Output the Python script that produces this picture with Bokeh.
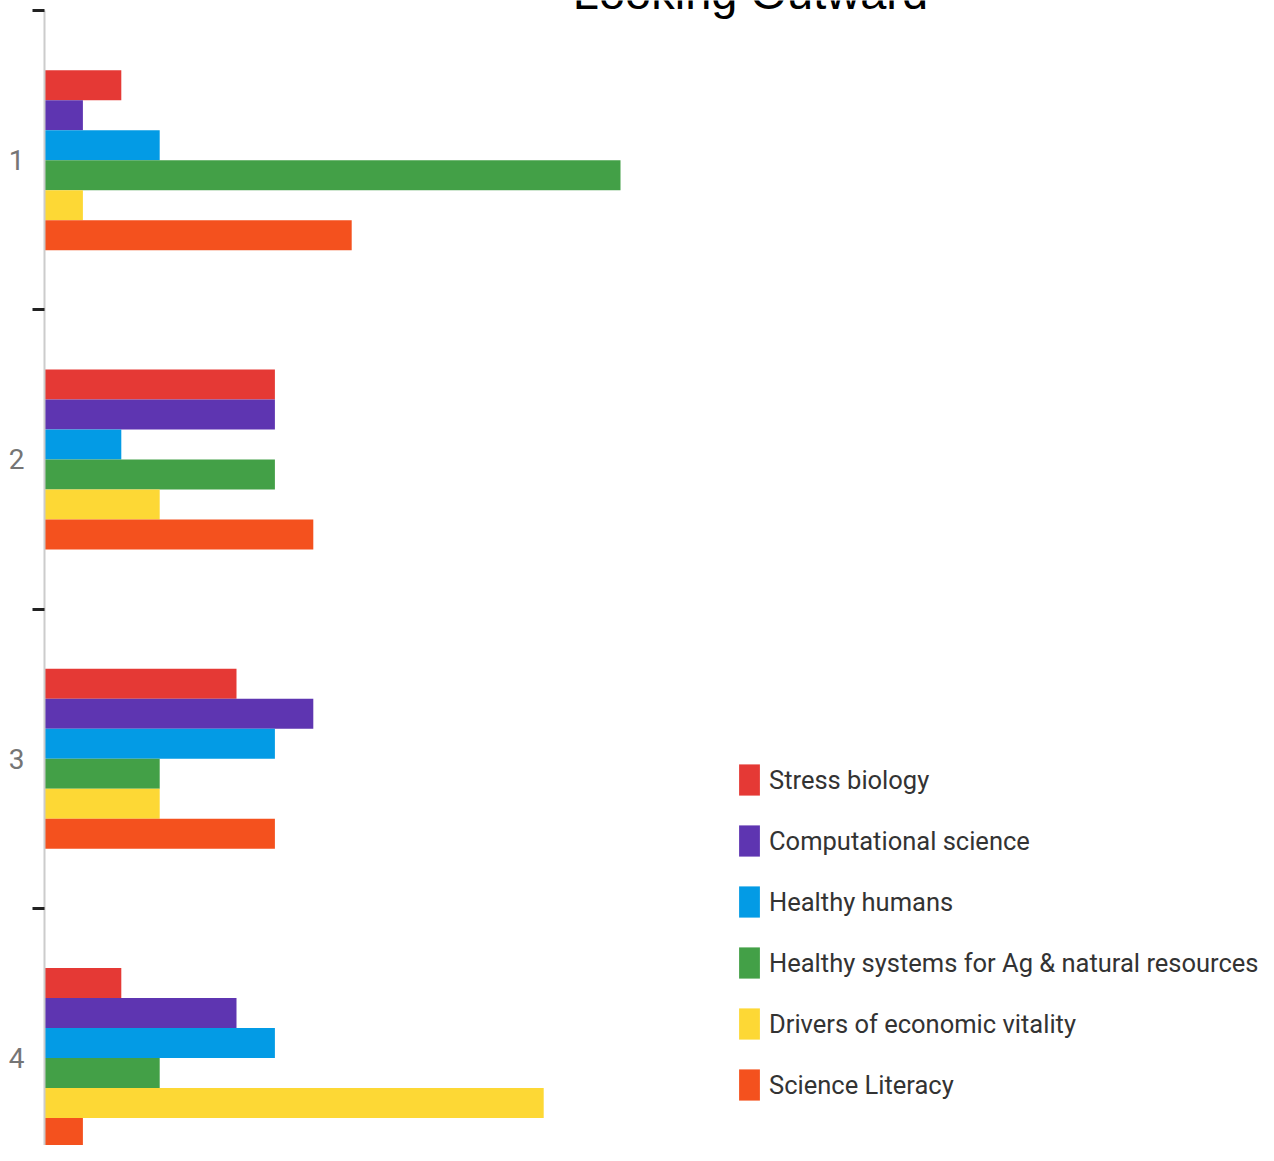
from bokeh.plotting import figure
from bokeh.models import ColumnDataSource, Range1d, FixedTicker, Legend, LegendItem, Label
from bokeh.transform import dodge
from bokeh.core.properties import value
from bokeh.embed import file_html
from bokeh.resources import INLINE

# ---------------- data ----------------
title_text = "Looking Outward"
groups = [1, 2, 3, 4]
tick_labels = ["1", "2", "3", "4"]
series_names = [
    "Stress biology",
    "Computational science",
    "Healthy humans",
    "Healthy systems for Ag & natural resources",
    "Drivers of economic vitality",
    "Science Literacy",
]
stress_biology = [2, 6, 5, 2]
computational_science = [1, 6, 7, 5]
healthy_humans = [3, 2, 6, 6]
healthy_systems = [15, 6, 3, 3]
economic_vitality = [1, 3, 3, 13]
science_literacy = [8, 7, 6, 1]
series_values = [stress_biology, computational_science, healthy_humans,
                 healthy_systems, economic_vitality, science_literacy]
colors = ["#E53935", "#5E35B1", "#039BE5", "#43A047", "#FDD835", "#F4511E"]

# ---------------- layout constants ----------------
group_px = 299.3          # pixels per group band
bar_px = 30.0             # pixels per bar
unit_px = 38.4            # pixels per value unit
fig_w = 1258
fig_h = 1145
border_left = 44
frame_w = fig_w - border_left
frame_h = fig_h
y_top = 0.5 - 10 / group_px
y_bottom = y_top + frame_h / group_px
bar_h = bar_px / group_px

p = figure(width=fig_w, height=fig_h, output_backend="svg", toolbar_location=None,
           x_range=Range1d(0, frame_w / unit_px),
           y_range=Range1d(y_bottom, y_top),
           x_axis_location=None,
           min_border_left=border_left, min_border_right=0,
           min_border_top=0, min_border_bottom=0)
p.outline_line_color = None
p.xgrid.visible = False
p.ygrid.visible = False
p.background_fill_color = "white"
p.border_fill_color = "white"

renderers = []
n = len(series_names)
for j, (name, vals, col) in enumerate(zip(series_names, series_values, colors)):
    src = ColumnDataSource(dict(g=groups, v=vals))
    off = (j - (n - 1) / 2) * bar_h
    r = p.hbar(y=dodge("g", off), left=0, right="v", height=bar_h,
               fill_color=col, line_color=None, source=src)
    renderers.append((name, r))

yaxis = p.yaxis[0]
yaxis.ticker = FixedTicker(ticks=groups, minor_ticks=[g - 0.5 for g in groups])
yaxis.major_label_overrides = {g: t for g, t in zip(groups, tick_labels)}
yaxis.bounds = (0.5, y_bottom)
yaxis.major_tick_in = 0
yaxis.major_tick_out = 0
yaxis.minor_tick_in = 0
yaxis.minor_tick_out = 12
yaxis.minor_tick_line_color = "#222222"
yaxis.minor_tick_line_width = 3
yaxis.axis_line_color = "#cccccc"
yaxis.axis_line_width = 2
yaxis.major_label_standoff = 8
yaxis.major_label_text_font = "Roboto"
yaxis.major_label_text_font_size = "28px"
yaxis.major_label_text_color = "#757575"

legend = Legend(items=[LegendItem(label=nm, renderers=[r]) for nm, r in renderers],
                location=(692, fig_h - 1104),
                glyph_width=26, glyph_height=39, spacing=22, label_standoff=7,
                padding=0, margin=0, border_line_color=None,
                background_fill_alpha=0,
                label_text_font="Roboto", label_text_font_size="25.5px",
                label_text_color="#333333")
p.add_layout(legend)

title = Label(x=(750 - border_left) / unit_px, y=0.5 - 18 / group_px, text=title_text,
              text_align="center", text_baseline="alphabetic",
              text_font="Liberation Sans", text_font_size="47px",
              text_color="#000000")
p.add_layout(title)

open("out.html", "w").write(file_html(p, INLINE))
